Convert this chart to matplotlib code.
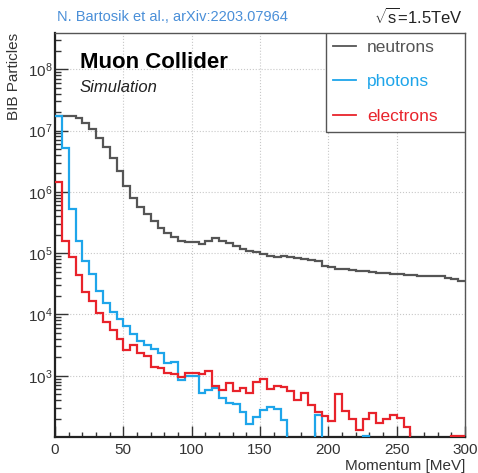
import numpy as np
import matplotlib
matplotlib.use("Agg")
import matplotlib.pyplot as plt
from matplotlib.patches import Rectangle
from matplotlib.lines import Line2D
from matplotlib.ticker import LogLocator, MultipleLocator, NullFormatter, FixedLocator

plt.rcParams['font.family'] = ['Liberation Sans', 'DejaVu Sans']
plt.rcParams['mathtext.fontset'] = 'custom'
plt.rcParams['mathtext.rm'] = 'Liberation Sans'
plt.rcParams['mathtext.it'] = 'Liberation Sans:italic'
plt.rcParams['mathtext.bf'] = 'Liberation Sans:bold'

# Momentum binning: 60 bins of 5 MeV from 0 to 300 MeV
bin_edges = np.arange(0, 305, 5)

neutrons = [
    1.75e7, 1.75e7, 1.75e7, 1.6e7, 1.35e7, 1.05e7, 7.5e6, 5.3e6, 3.6e6, 2.2e6,
    1.25e6, 7.8e5, 5.6e5, 4.3e5, 3.3e5, 2.6e5, 2.1e5, 1.8e5, 1.6e5, 1.5e5,
    1.5e5, 1.43e5, 1.56e5, 1.77e5, 1.56e5, 1.47e5, 1.32e5, 1.18e5, 1.1e5, 1.03e5,
    9.8e4, 9.1e4, 8.7e4, 8.9e4, 8.6e4, 8.4e4, 8.1e4, 7.6e4, 7.3e4, 6.1e4,
    5.9e4, 5.6e4, 5.5e4, 5.3e4, 5.2e4, 5.1e4, 4.9e4, 4.8e4, 4.7e4, 4.6e4,
    4.5e4, 4.4e4, 4.35e4, 4.3e4, 4.25e4, 4.25e4, 4.2e4, 3.95e4, 3.8e4, 3.5e4,
]

photons = [
    1.72e7, 5.2e6, 5.2e5, 1.58e5, 7.4e4, 4.6e4, 2.4e4, 1.55e4, 1.1e4, 8.3e3,
    6.4e3, 4.8e3, 3.7e3, 3.2e3, 2.7e3, 2.35e3, 1.6e3, 1.7e3, 850, 1.0e3,
    1.0e3, 520, 580, 640, 430, 360, 350, 260, 165, 210,
    280, 305, 285, 190, 0, 0, 0, 0, 225, 0,
    0, 0, 0, 0, 0, 103, 0, 0, 0, 0,
    0, 0, 0, 0, 0, 0, 0, 0, 0, 0,
]

electrons = [
    1.45e6, 1.56e5, 8.5e4, 4.4e4, 2.35e4, 1.65e4, 1.05e4, 7.5e3, 5.5e3, 4.0e3,
    2.65e3, 3.2e3, 2.35e3, 2.1e3, 1.37e3, 1.33e3, 1.12e3, 1.05e3, 950, 1.12e3,
    1.1e3, 1.08e3, 1.2e3, 680, 590, 760, 570, 620, 530, 790,
    880, 610, 690, 650, 560, 400, 520, 330, 260, 220,
    180, 500, 262, 195, 128, 200, 250, 170, 200, 230,
    205, 148, 0, 0, 0, 0, 0, 0, 105, 105,
]

series_labels = ["neutrons", "photons", "electrons"]
series_colors = ["#555555", "#1ea5ea", "#e8232b"]

fig = plt.figure(figsize=(4.78, 4.73), dpi=100)
ax = fig.add_axes([55 / 478, 1 - 437 / 473, 410 / 478, 404 / 473])

for vals, col in zip([neutrons, photons, electrons], series_colors):
    ax.stairs(vals, bin_edges, baseline=None, color=col, lw=1.6, zorder=3)

ax.set_yscale('log')
ax.set_xlim(0, 300)
ax.set_ylim(100, 3.9e8)

ax.xaxis.set_major_locator(MultipleLocator(50))
ax.xaxis.set_minor_locator(MultipleLocator(10))
ax.yaxis.set_major_locator(FixedLocator([1e3, 1e4, 1e5, 1e6, 1e7, 1e8]))
ax.yaxis.set_minor_locator(LogLocator(base=10, subs=np.arange(2, 10)))
ax.yaxis.set_minor_formatter(NullFormatter())
ax.set_yticklabels([r'$10^{%d}$' % e for e in range(3, 9)])

ax.tick_params(axis='x', which='major', direction='in', length=8, width=1.0,
               labelsize=11, pad=4, top=False, color='#333333', labelcolor='#333333')
ax.tick_params(axis='x', which='minor', direction='in', length=3.6, width=1.0,
               top=False, color='#333333')
ax.tick_params(axis='y', which='major', direction='in', length=9, width=1.0,
               labelsize=11, pad=2, right=False, color='#333333', labelcolor='#333333')
ax.tick_params(axis='y', which='minor', direction='in', length=4.5, width=1.0,
               right=False, color='#333333')

ax.grid(True, which='major', linestyle=':', color='#c8c8c8', lw=0.8, zorder=0)

for side in ['left', 'bottom']:
    ax.spines[side].set_color('#222222')
    ax.spines[side].set_linewidth(1.6)
for side in ['top', 'right']:
    ax.spines[side].set_color('#555555')
    ax.spines[side].set_linewidth(1.0)

ax.set_xlabel('Momentum [MeV]', fontsize=11, color='#333333', loc='right', labelpad=2)
ax.set_ylabel('BIB Particles', fontsize=11, color='#333333', loc='top', labelpad=5)

# Legend box anchored to the upper right corner of the frame
box_x0 = (326 - 55) / 410
box_y0 = (437 - 131.7) / 404
ax.add_patch(Rectangle((box_x0, box_y0), 1 - box_x0, 1 - box_y0, transform=ax.transAxes,
                       facecolor='white', edgecolor='#555555', lw=1.0, zorder=5))
handles = [Line2D([], [], color=c, lw=1.3) for c in series_colors]
leg = ax.legend(handles, series_labels, loc='upper left',
                bbox_to_anchor=(box_x0, 1.0), frameon=False, fontsize=12.5,
                handlelength=1.3, handletextpad=0.65, labelspacing=1.1,
                borderpad=0.4, borderaxespad=0.0, labelcolor='linecolor')
leg.set_zorder(6)

ax.text(25 / 410, 1 - (62 - 33) / 404, 'Muon Collider', transform=ax.transAxes,
        fontsize=16, fontweight='bold', va='center', ha='left', color='black', zorder=4)
ax.text(25 / 410, 1 - (87 - 33) / 404, 'Simulation', transform=ax.transAxes,
        fontsize=12, style='italic', va='center', ha='left', color='#222222', zorder=4)

fig.text(57 / 478, 1 - 17 / 473, 'N. Bartosik et al., arXiv:2203.07964',
         fontsize=10.5, color='#4a8fd8', va='center', ha='left')
fig.text(463 / 478, 1 - 17 / 473, r'$\sqrt{\mathrm{s}}$=1.5TeV',
         fontsize=12, color='#222222', va='center', ha='right')

fig.savefig('out.png', dpi=100)
